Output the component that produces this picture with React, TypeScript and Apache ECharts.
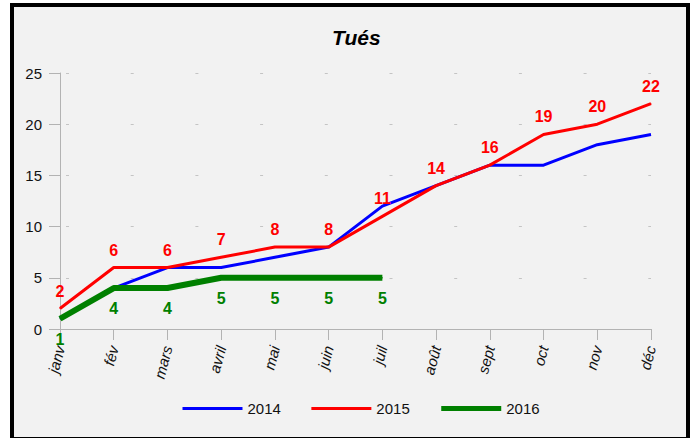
import React, { useEffect, useRef } from 'react';
import * as echarts from 'echarts';

const months = ['janv', 'fév', 'mars', 'avril', 'mai', 'juin', 'juil', 'août', 'sept', 'oct', 'nov', 'déc'];
const s2014 = [1, 4, 6, 6, 7, 8, 12, 14, 16, 16, 18, 19];
const s2015 = [2, 6, 6, 7, 8, 8, 11, 14, 16, 19, 20, 22];
const s2016: (number | null)[] = [1, 4, 4, 5, 5, 5, 5, null, null, null, null, null];
const seriesNames = ['2014', '2015', '2016'];
const yMin = 0;
const yMax = 25;
const yInterval = 5;

const FONT = '"Liberation Sans", Arial, sans-serif';
const AXIS_COLOR = '#b3b3b3';

export default function App() {
  const ref = useRef<HTMLDivElement>(null);
  useEffect(() => {
    if (!ref.current) return;
    const chart = echarts.init(ref.current, null, { renderer: 'svg' });
    chart.setOption({
      animation: false,
      backgroundColor: '#ffffff',
      textStyle: { fontFamily: FONT },
      graphic: [
        {
          type: 'rect',
          z: -10,
          silent: true,
          shape: { x: 12, y: 5, width: 676, height: 434 },
          style: { fill: '#f2f2f2', stroke: '#000000', lineWidth: 4 },
        },
      ],
      title: {
        text: 'Tués',
        left: 327,
        top: 22,
        textStyle: { fontSize: 21, fontWeight: 'bold', fontStyle: 'italic', color: '#000', fontFamily: FONT },
      },
      legend: {
        left: 181,
        top: 401,
        padding: 0,
        itemWidth: 60,
        itemHeight: 14,
        itemGap: 29,
        itemStyle: { opacity: 0 },
        textStyle: { fontSize: 15, color: '#111', fontFamily: FONT },
        data: [
          { name: seriesNames[0], lineStyle: { width: 3 } },
          { name: seriesNames[1], lineStyle: { width: 3 } },
          { name: seriesNames[2], lineStyle: { width: 5 } },
        ],
      },
      grid: { left: 60, right: 41, top: 73, bottom: 109, containLabel: false },
      xAxis: {
        type: 'category',
        data: months,
        boundaryGap: false,
        axisLine: { lineStyle: { color: AXIS_COLOR, width: 1 } },
        axisTick: { show: true, length: 11, lineStyle: { color: AXIS_COLOR } },
        axisLabel: {
          rotate: 75,
          fontStyle: 'italic',
          fontSize: 15,
          color: '#111',
          margin: 17,
          fontFamily: FONT,
          interval: 0,
        },
        splitLine: { show: false },
      },
      yAxis: {
        type: 'value',
        min: yMin,
        max: yMax,
        interval: yInterval,
        axisLine: { show: true, lineStyle: { color: AXIS_COLOR, width: 1 } },
        axisTick: { show: true, length: 11, lineStyle: { color: AXIS_COLOR } },
        axisLabel: { fontSize: 15, color: '#111', margin: 18, fontFamily: FONT },
        splitLine: {
          show: true,
          lineStyle: { color: '#c4c4c4', width: 1, type: [3, 61.7], dashOffset: -6.5 },
        },
      },
      series: [
        {
          name: seriesNames[0],
          type: 'line',
          data: s2014,
          symbol: 'none',
          lineStyle: { color: '#0000ff', width: 3 },
          itemStyle: { color: '#0000ff' },
        },
        {
          name: seriesNames[1],
          type: 'line',
          data: s2015,
          symbol: 'circle',
          symbolSize: 1,
          showSymbol: true,
          lineStyle: { color: '#ff0000', width: 3 },
          itemStyle: { color: '#ff0000' },
          label: {
            show: true,
            position: 'top',
            distance: 9,
            color: '#ff0000',
            fontWeight: 'bold',
            fontSize: 16,
            fontFamily: FONT,
          },
        },
        {
          name: seriesNames[2],
          type: 'line',
          data: s2016,
          symbol: 'circle',
          symbolSize: 1,
          showSymbol: true,
          lineStyle: { color: '#008000', width: 6 },
          itemStyle: { color: '#008000' },
          label: {
            show: true,
            position: 'bottom',
            distance: 12,
            color: '#008000',
            fontWeight: 'bold',
            fontSize: 16,
            fontFamily: FONT,
          },
        },
      ],
    });
    return () => chart.dispose();
  }, []);
  return (
    <div
      ref={ref}
      style={{ position: 'absolute', left: 0, top: 0, width: 692, height: 438 }}
    />
  );
}
